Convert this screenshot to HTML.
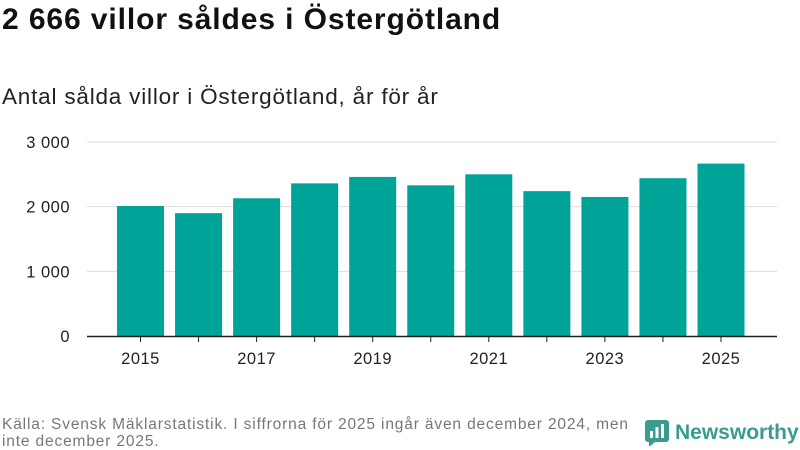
<!DOCTYPE html>
<html><head><meta charset="utf-8"><style>
body{margin:0;width:800px;height:450px;background:#fff;font-family:"Liberation Sans",sans-serif;overflow:hidden;position:relative}
.t{position:absolute;left:2px;top:3px;font-size:30px;font-weight:bold;color:#111;letter-spacing:0.9px}
.s{position:absolute;left:2px;top:84px;font-size:22.5px;color:#222;letter-spacing:0.8px}
.f{position:absolute;left:2px;top:416px;font-size:15.5px;color:#777;line-height:17px;width:640px;letter-spacing:0.85px}
.logo{position:absolute;left:645px;top:420px;font-size:21px;font-weight:bold;color:#3a9c8e;display:flex;align-items:center;gap:6px}
</style></head><body>
<div class="t">2 666 villor såldes i Östergötland</div>
<div class="s">Antal sålda villor i Östergötland, år för år</div>
<svg id="c" width="800" height="450" style="position:absolute;left:0;top:0"></svg>
<div class="f">Källa: Svensk Mäklarstatistik. I siffrorna för 2025 ingår även december 2024, men inte december 2025.</div>
<div class="logo"><svg width="24" height="26"><rect x="0" y="0" width="24" height="22" rx="3" fill="#3a9c8e"/><polygon points="4,22 10,22 4,27" fill="#3a9c8e"/><rect x="5" y="11" width="3" height="7" fill="#fff"/><rect x="10.5" y="7" width="3" height="11" fill="#fff"/><rect x="16" y="4" width="3" height="14" fill="#fff"/></svg><span>Newsworthy</span></div>
<script>
const years=[2015,2016,2017,2018,2019,2020,2021,2022,2023,2024,2025];
const values=[2010,1900,2130,2360,2460,2330,2500,2240,2150,2440,2666];
const yTicks=[0,1000,2000,3000];
const yTickLabels=["0","1 000","2 000","3 000"];
const xLabelYears=[2015,2017,2019,2021,2023,2025];
const svg=document.getElementById('c');const NS='http://www.w3.org/2000/svg';
function y(v){return 336-v*(194/3000);}
function x(i){return 140.5+i*58.05;}
function mk(t,a){const e=document.createElementNS(NS,t);for(const k in a)e.setAttribute(k,a[k]);svg.appendChild(e);return e;}
yTicks.forEach((v,i)=>{
 if(v>0){const g=mk('line',{x1:87,x2:777,y1:y(v),y2:y(v),stroke:'#ddd','stroke-width':1});
 
 }
 const t=mk('text',{x:70,y:y(v)+6,'text-anchor':'end','font-size':16.5,'letter-spacing':0.5,fill:'#222','font-family':'Liberation Sans, sans-serif'});t.textContent=yTickLabels[i];
 
 
});
values.forEach((v,i)=>{
 const r=mk('rect',{x:x(i)-23.5,y:y(v),width:47,height:336-y(v),fill:'#00a398'});
 
 
});
const ax=mk('line',{x1:87,x2:777,y1:336.5,y2:336.5,stroke:'#222','stroke-width':1.5});


years.forEach((yr,i)=>{
 const tk=mk('line',{x1:x(i),x2:x(i),y1:337,y2:342,stroke:'#222'});
 
 
 if(xLabelYears.includes(yr)){const t=mk('text',{x:x(i),y:364,'text-anchor':'middle','font-size':16.5,'letter-spacing':0.5,fill:'#222','font-family':'Liberation Sans, sans-serif'});t.textContent=yr;
 
 }
});
</script>
</body></html>
